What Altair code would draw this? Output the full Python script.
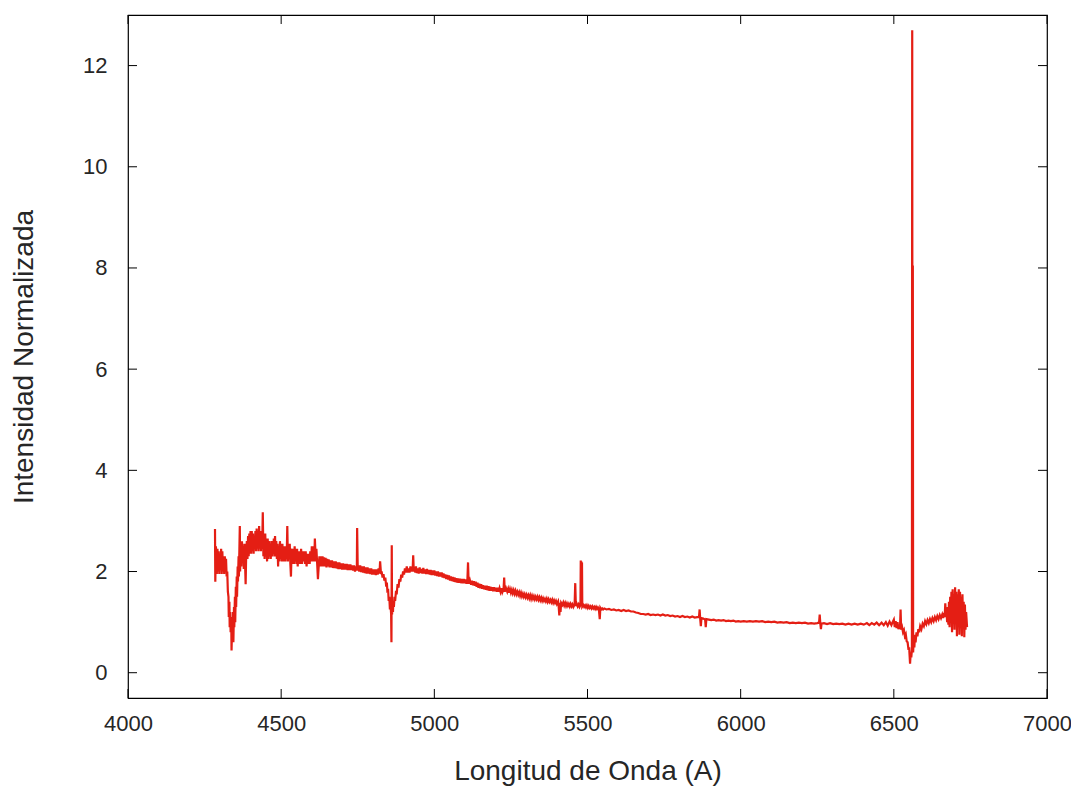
import altair as alt
import pandas as pd

# ---- data (wavelength in A, normalised intensity) ----
seg_hgamma = [(4284, 2.84), (4285, 1.8), (4287, 2.5), (4290, 1.95), (4292, 2.45), (4294, 2.0),
              (4296, 2.4), (4298, 1.95), (4300, 2.35), (4302, 2.05), (4304, 2.45), (4306, 1.95),
              (4308, 2.4), (4310, 2.0), (4312, 2.3), (4314, 1.95), (4316, 2.3), (4318, 2.0),
              (4320, 2.25), (4322, 1.9), (4324, 2.0), (4326, 1.6), (4328, 1.5), (4329, 1.1),
              (4331, 1.4), (4332, 0.9), (4334, 1.2), (4335, 0.8), (4337, 1.1), (4338, 0.44),
              (4340, 1.0), (4341, 0.6), (4343, 1.2), (4344, 0.6), (4346, 1.3), (4347, 0.9),
              (4349, 1.5), (4350, 1.0), (4352, 1.7), (4353, 1.3), (4355, 1.9), (4356, 1.5),
              (4358, 2.1), (4359, 1.8), (4361, 2.3), (4362, 1.9), (4365, 2.9)]

seg_blue = [(4366, 2.0), (4368, 2.6), (4370, 2.1), (4372, 2.6), (4374, 2.2), (4376, 2.5),
            (4378, 2.05), (4380, 2.55), (4382, 2.2), (4384, 1.75), (4386, 2.4), (4388, 2.6),
            (4390, 2.25), (4392, 2.7), (4394, 2.3), (4396, 2.75), (4398, 2.35), (4400, 2.8),
            (4402, 2.35), (4404, 2.8), (4406, 2.4), (4408, 2.75), (4410, 2.35), (4412, 2.7),
            (4414, 2.45), (4416, 2.8), (4418, 2.4), (4420, 2.85), (4422, 2.45), (4424, 2.8),
            (4426, 2.4), (4428, 2.9), (4430, 2.45), (4432, 2.8), (4434, 2.4), (4436, 2.8),
            (4438, 2.45), (4440, 3.17), (4442, 2.3), (4444, 2.6), (4446, 2.25), (4448, 2.75),
            (4450, 2.3), (4452, 2.65), (4454, 2.2), (4456, 2.65), (4458, 2.25), (4460, 2.6),
            (4462, 2.3), (4464, 2.55), (4466, 2.25), (4468, 2.6), (4470, 2.3), (4472, 2.6),
            (4474, 2.35), (4476, 2.65), (4478, 2.3), (4480, 2.7), (4482, 2.3), (4484, 2.6),
            (4486, 2.25), (4488, 2.55), (4490, 2.1), (4492, 2.5), (4494, 2.2), (4496, 2.6),
            (4498, 2.25), (4500, 2.55), (4502, 2.2), (4504, 2.55), (4506, 2.2), (4508, 2.5),
            (4510, 2.2), (4512, 2.5), (4514, 2.2), (4516, 2.45), (4518, 2.25), (4520, 2.9),
            (4522, 2.2), (4524, 2.5), (4526, 2.25), (4528, 2.55), (4530, 2.15), (4532, 1.9),
            (4534, 2.4), (4536, 2.45), (4538, 2.15), (4540, 2.45), (4542, 2.15), (4544, 2.5),
            (4546, 2.2), (4548, 2.45), (4550, 2.15), (4552, 2.45), (4554, 2.1), (4556, 2.4),
            (4558, 2.15), (4560, 2.4), (4563, 2.15), (4565, 2.45), (4568, 2.15), (4570, 2.4),
            (4573, 2.2), (4575, 2.4), (4578, 2.15), (4580, 2.4), (4583, 2.1), (4585, 2.35),
            (4588, 2.15), (4590, 2.35), (4593, 2.15), (4595, 2.4), (4598, 2.2), (4600, 2.5),
            (4603, 2.2), (4605, 2.5), (4608, 2.2), (4610, 2.65), (4613, 2.2), (4615, 2.45),
            (4618, 2.1), (4620, 1.85), (4623, 2.15), (4625, 2.3), (4628, 2.1), (4630, 2.3),
            (4633, 2.1), (4635, 2.3), (4638, 2.1), (4640, 2.28), (4643, 2.1), (4645, 2.27),
            (4648, 2.08), (4650, 2.25), (4653, 2.1), (4655, 2.24), (4658, 2.08), (4660, 2.22),
            (4663, 2.08), (4666, 2.22), (4669, 2.07), (4672, 2.2), (4675, 2.07), (4678, 2.2),
            (4681, 2.06), (4684, 2.18), (4687, 2.05), (4690, 2.18), (4693, 2.05), (4696, 2.16),
            (4699, 2.04), (4702, 2.16), (4705, 2.04), (4708, 2.15), (4711, 2.04), (4714, 2.15),
            (4717, 2.03), (4720, 2.14), (4723, 2.03), (4726, 2.14), (4729, 2.03), (4732, 2.12),
            (4735, 2.02), (4738, 2.12), (4741, 2.0), (4744, 2.1), (4747, 2.02), (4748, 2.86),
            (4750, 2.02), (4752, 2.12), (4755, 2.0), (4758, 2.12), (4761, 1.99), (4764, 2.1),
            (4767, 1.98), (4770, 2.1), (4773, 1.97), (4776, 2.08), (4779, 1.96), (4782, 2.08),
            (4785, 1.96), (4788, 2.06), (4791, 1.95), (4794, 2.06), (4797, 1.94), (4800, 2.04),
            (4803, 1.94), (4806, 2.04), (4809, 1.93), (4812, 2.04), (4815, 1.94), (4818, 2.06)]

seg_hbeta = [(4821, 1.96), (4823, 2.2), (4826, 1.95), (4828, 2.0), (4831, 1.88), (4834, 1.95),
             (4837, 1.82), (4840, 1.88), (4843, 1.7), (4845, 1.78), (4847, 1.58), (4849, 1.66),
             (4851, 1.42), (4853, 1.5), (4855, 1.25), (4857, 1.35), (4859, 1.15), (4860, 0.6),
             (4861, 2.52), (4862, 1.15), (4863, 1.3), (4865, 1.2), (4866, 1.4), (4868, 1.3),
             (4870, 1.5), (4872, 1.42), (4875, 1.62), (4877, 1.55), (4880, 1.75), (4883, 1.68),
             (4886, 1.85), (4889, 1.8), (4892, 1.94), (4895, 1.88), (4898, 2.0), (4901, 1.94),
             (4904, 2.06), (4907, 1.98), (4910, 2.1), (4913, 1.98), (4916, 2.06), (4919, 1.98),
             (4922, 2.1), (4924, 2.0), (4926, 2.08), (4929, 2.0), (4931, 2.32), (4933, 2.0),
             (4935, 2.08)]

seg_green = [(4938, 1.98), (4940, 2.1), (4943, 1.97), (4946, 2.06), (4949, 1.96), (4952, 2.08),
             (4955, 1.97), (4958, 2.05), (4961, 1.96), (4964, 2.07), (4967, 1.96), (4970, 2.04),
             (4973, 1.95), (4976, 2.05), (4979, 1.95), (4982, 2.03), (4985, 1.94), (4988, 2.03),
             (4991, 1.93), (4994, 2.02), (4997, 1.93), (5000, 2.02), (5003, 1.92), (5006, 2.0),
             (5009, 1.91), (5012, 2.0), (5015, 1.9), (5018, 1.98), (5021, 1.9), (5024, 1.98),
             (5027, 1.88), (5030, 1.96), (5033, 1.87), (5036, 1.94), (5039, 1.85), (5042, 1.93),
             (5045, 1.84), (5048, 1.92), (5051, 1.82), (5054, 1.9), (5057, 1.81), (5060, 1.89),
             (5063, 1.8), (5066, 1.88), (5069, 1.79), (5072, 1.87), (5075, 1.78), (5078, 1.86),
             (5081, 1.78), (5084, 1.86), (5087, 1.77), (5090, 1.85), (5093, 1.77), (5096, 1.85),
             (5099, 1.77), (5102, 1.84), (5105, 1.76), (5108, 1.84), (5110, 2.18), (5112, 1.76),
             (5116, 1.83), (5120, 1.74), (5123, 1.82), (5126, 1.73), (5129, 1.81), (5132, 1.72),
             (5135, 1.8), (5138, 1.7), (5141, 1.78), (5144, 1.68), (5147, 1.76), (5150, 1.67),
             (5153, 1.75), (5156, 1.66), (5159, 1.73), (5162, 1.65), (5165, 1.72), (5168, 1.64),
             (5171, 1.72), (5174, 1.63), (5177, 1.71), (5180, 1.62), (5183, 1.7), (5186, 1.62),
             (5189, 1.69), (5192, 1.61), (5195, 1.69), (5198, 1.61), (5201, 1.68), (5204, 1.6),
             (5207, 1.68), (5210, 1.6), (5213, 1.67), (5216, 1.6), (5219, 1.67), (5222, 1.59),
             (5226, 1.65), (5228, 1.88), (5230, 1.6), (5234, 1.67), (5238, 1.6), (5241, 1.66),
             (5244, 1.58), (5247, 1.65), (5250, 1.58), (5253, 1.64), (5256, 1.57), (5259, 1.63),
             (5262, 1.56), (5265, 1.62), (5268, 1.55), (5271, 1.6), (5274, 1.54), (5277, 1.59),
             (5280, 1.52), (5283, 1.58), (5286, 1.51), (5289, 1.56), (5292, 1.5), (5295, 1.55),
             (5298, 1.49), (5301, 1.54), (5304, 1.48), (5307, 1.53), (5310, 1.47), (5313, 1.53),
             (5316, 1.46), (5319, 1.52), (5322, 1.46), (5325, 1.51), (5328, 1.45), (5331, 1.5),
             (5334, 1.45), (5337, 1.5), (5340, 1.44), (5343, 1.49), (5346, 1.43), (5349, 1.48),
             (5352, 1.42), (5355, 1.47), (5358, 1.42), (5361, 1.46), (5364, 1.41), (5367, 1.46),
             (5370, 1.4), (5373, 1.45), (5376, 1.4), (5379, 1.44), (5382, 1.39), (5385, 1.44),
             (5388, 1.38), (5391, 1.43), (5394, 1.38), (5397, 1.42), (5400, 1.36), (5404, 1.41),
             (5406, 1.3), (5408, 1.13), (5410, 1.38), (5412, 1.2), (5414, 1.38), (5418, 1.34),
             (5421, 1.39), (5424, 1.33), (5427, 1.38), (5430, 1.32), (5433, 1.37), (5436, 1.32),
             (5439, 1.36), (5442, 1.31), (5445, 1.36), (5448, 1.31), (5451, 1.35), (5454, 1.3),
             (5458, 1.35), (5460, 1.77), (5462, 1.32), (5465, 1.36), (5468, 1.31), (5471, 1.35),
             (5474, 1.3), (5477, 1.34), (5478, 2.22), (5479, 1.32), (5480, 2.2), (5481, 1.33),
             (5482, 2.18), (5483, 1.31), (5486, 1.34), (5489, 1.3), (5492, 1.33), (5495, 1.29),
             (5498, 1.33), (5501, 1.28), (5504, 1.32), (5507, 1.28), (5510, 1.31), (5513, 1.27),
             (5516, 1.31), (5519, 1.27), (5522, 1.3), (5525, 1.26), (5528, 1.3), (5531, 1.26),
             (5534, 1.29), (5537, 1.26), (5540, 1.06), (5542, 1.28), (5545, 1.25), (5548, 1.27),
             (5551, 1.25)]

seg_red = [(5555, 1.27), (5562, 1.25), (5570, 1.26), (5578, 1.24), (5586, 1.25), (5594, 1.23),
           (5602, 1.24), (5610, 1.22), (5618, 1.24), (5626, 1.22), (5634, 1.23), (5642, 1.21),
           (5650, 1.21), (5658, 1.19), (5666, 1.18), (5674, 1.16), (5682, 1.16), (5690, 1.15),
           (5698, 1.16), (5706, 1.14), (5714, 1.15), (5722, 1.14), (5730, 1.15), (5738, 1.13),
           (5746, 1.15), (5754, 1.13), (5762, 1.14), (5770, 1.12), (5778, 1.13), (5786, 1.11),
           (5794, 1.12), (5802, 1.1), (5810, 1.12), (5818, 1.1), (5826, 1.11), (5834, 1.09),
           (5842, 1.11), (5850, 1.09), (5858, 1.1), (5864, 1.1), (5866, 1.25), (5868, 1.06),
           (5870, 0.92), (5872, 1.08), (5878, 1.07), (5884, 1.05), (5886, 0.9), (5888, 1.06),
           (5896, 1.05), (5904, 1.04), (5912, 1.05), (5920, 1.03), (5928, 1.04), (5936, 1.03),
           (5944, 1.04), (5952, 1.02), (5960, 1.03), (5968, 1.02), (5976, 1.03), (5984, 1.01),
           (5992, 1.02), (6000, 1.01), (6010, 1.02), (6020, 1.01), (6030, 1.02), (6040, 1.01),
           (6050, 1.02), (6060, 1.01), (6070, 1.02), (6080, 1.0), (6090, 1.01), (6100, 1.0),
           (6110, 1.01), (6120, 0.99), (6130, 1.0), (6140, 0.99), (6150, 1.0), (6160, 0.98),
           (6170, 0.99), (6180, 0.98), (6190, 0.99), (6200, 0.98), (6210, 0.99), (6220, 0.97),
           (6230, 0.98), (6240, 0.97), (6250, 0.98), (6256, 0.99), (6258, 1.15), (6260, 0.97),
           (6262, 0.86), (6264, 0.97), (6272, 0.98), (6282, 0.96), (6292, 0.98), (6302, 0.96),
           (6312, 0.97), (6322, 0.96), (6332, 0.97), (6342, 0.95), (6352, 0.97), (6362, 0.95),
           (6372, 0.97), (6382, 0.95), (6392, 0.97), (6402, 0.95), (6412, 0.98), (6420, 0.94),
           (6428, 0.98), (6436, 0.95), (6444, 0.99), (6452, 0.94), (6460, 0.99), (6467, 0.94),
           (6474, 1.0), (6480, 0.93), (6486, 1.01), (6492, 0.94), (6496, 1.0)]

seg_halpha = [(6500, 1.05), (6503, 0.9), (6506, 1.02), (6509, 0.88), (6512, 1.0), (6515, 0.86),
              (6518, 0.95), (6520, 0.86), (6522, 1.25), (6524, 0.85), (6527, 0.9), (6530, 0.8),
              (6533, 0.84), (6536, 0.72), (6539, 0.76), (6542, 0.62), (6545, 0.6), (6548, 0.45),
              (6550, 0.5), (6553, 0.18), (6555, 0.4), (6557, 0.3), (6559, 0.45), (6560, 12.7),
              (6561, 0.5), (6562, 8.05), (6563, 0.4), (6565, 0.7), (6567, 0.5), (6569, 0.75),
              (6571, 0.6), (6574, 0.8), (6577, 0.72), (6580, 0.86), (6583, 0.8), (6586, 0.92),
              (6590, 0.86), (6594, 0.97), (6598, 0.92), (6602, 1.02), (6606, 0.96), (6610, 1.04),
              (6614, 0.98), (6618, 1.06), (6622, 1.0), (6626, 1.08), (6630, 1.02), (6634, 1.1),
              (6638, 1.04), (6642, 1.12), (6646, 1.06), (6650, 1.14), (6654, 1.08), (6658, 1.15),
              (6661, 1.08), (6664, 1.18), (6666, 1.1), (6668, 1.37), (6670, 1.1), (6672, 1.2),
              (6674, 1.0), (6676, 1.3), (6678, 0.95), (6680, 1.4), (6682, 0.9), (6684, 1.5),
              (6686, 1.0), (6688, 1.6), (6690, 0.8), (6692, 1.65), (6694, 1.05), (6696, 1.55),
              (6698, 0.85), (6700, 1.69), (6702, 1.0), (6704, 1.6), (6706, 0.72), (6708, 1.55),
              (6710, 0.9), (6712, 1.65), (6714, 0.75), (6716, 1.6), (6718, 0.95), (6720, 1.5),
              (6722, 0.72), (6724, 1.55), (6726, 0.9), (6728, 1.4), (6730, 0.7), (6732, 1.35),
              (6734, 0.85), (6736, 1.2), (6739, 0.9)]

x_ticks = [4000, 4500, 5000, 5500, 6000, 6500, 7000]
y_ticks = [0, 2, 4, 6, 8, 10, 12]

# ---- build table ----
points = seg_hgamma + seg_blue + seg_hbeta + seg_green + seg_red + seg_halpha
df = pd.DataFrame(points, columns=["wl", "val"])

W, H = 919, 683
TICK = 9
RED = "#e41e14"
FONT = "Liberation Sans, Arial, sans-serif"

x_scale = alt.Scale(domain=[4000, 7000], nice=False, zero=False)
y_scale = alt.Scale(domain=[-0.5, 13], nice=False, zero=False)
x_axis = alt.Axis(values=x_ticks, title="Longitud de Onda (A)", labelPadding=15,
                  titlePadding=23, format="d", labelFlush=False, labelOverlap=False)
y_axis = alt.Axis(values=y_ticks, title="Intensidad Normalizada", labelPadding=21,
                  titlePadding=44, format="d", labelFlush=False, labelOverlap=False)

line = alt.Chart(df).mark_line(color=RED, strokeWidth=2.2, strokeJoin="miter").encode(
    x=alt.X("wl:Q", scale=x_scale, axis=x_axis),
    y=alt.Y("val:Q", scale=y_scale, axis=y_axis),
)

xt = pd.DataFrame({"t": x_ticks})
yt = pd.DataFrame({"t": y_ticks})

bottom_ticks = alt.Chart(xt).mark_rule(color="black", strokeWidth=1).encode(
    x=alt.X("t:Q", scale=x_scale, axis=x_axis), y=alt.value(H), y2=alt.value(H - TICK))
top_ticks = alt.Chart(xt).mark_rule(color="black", strokeWidth=1).encode(
    x=alt.X("t:Q", scale=x_scale, axis=x_axis), y=alt.value(0), y2=alt.value(TICK))
left_ticks = alt.Chart(yt).mark_rule(color="black", strokeWidth=1).encode(
    y=alt.Y("t:Q", scale=y_scale, axis=y_axis), x=alt.value(0), x2=alt.value(TICK))
right_ticks = alt.Chart(yt).mark_rule(color="black", strokeWidth=1).encode(
    y=alt.Y("t:Q", scale=y_scale, axis=y_axis), x=alt.value(W), x2=alt.value(W - TICK))

chart = alt.layer(line, bottom_ticks, top_ticks, left_ticks, right_ticks).properties(
    width=W, height=H,
    autosize=alt.AutoSizeParams(type="none"),
    padding={"left": 120, "top": 7, "right": 24, "bottom": 90},
).configure_view(
    stroke="black", strokeWidth=1.2
).configure_axis(
    grid=False, ticks=False, domain=False,
    labelFont=FONT, titleFont=FONT,
    labelFontSize=22, titleFontSize=28,
    labelColor="#262626", titleColor="#262626",
    titleFontWeight="normal",
)

chart.save("out.html", embed_options={"renderer": "svg", "actions": False})
